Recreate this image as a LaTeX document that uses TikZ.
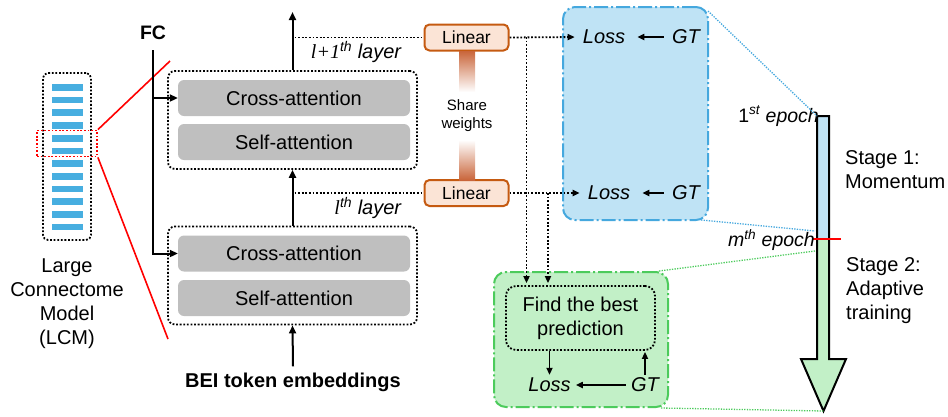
\documentclass[tikz,border=0pt]{standalone}
\usepackage{fontspec}
\setmainfont{Liberation Sans}
\newfontfamily\serifface{Liberation Serif}
\usetikzlibrary{arrows.meta,calc}

\definecolor{barblue}{HTML}{47AEE0}
\definecolor{attgray}{HTML}{BFBFBF}
\definecolor{linfill}{HTML}{FBE4D6}
\definecolor{linedge}{HTML}{C55A11}
\definecolor{shareor}{HTML}{C9653A}
\definecolor{stageblue}{HTML}{45A8DE}
\definecolor{stagebluefill}{HTML}{BFE3F5}
\definecolor{stagegreen}{HTML}{4CCB5C}
\definecolor{stagegreenfill}{HTML}{C2F0C7}

\begin{document}
\begin{tikzpicture}[x=1pt,y=-1pt,
  font=\fontsize{20}{24}\selectfont,
  tip/.style={-{Triangle[length=8pt,width=7pt]}},
  smalltip/.style={-{Triangle[length=7pt,width=6pt]}},
  dotline/.style={line width=1.8pt, dash pattern=on 1.8pt off 1.8pt},
  thindot/.style={line width=1.3pt, dash pattern=on 1.3pt off 1.3pt},
  blockbox/.style={draw, dotline, rounded corners=7pt, minimum width=249pt, minimum height=98pt, inner sep=0pt},
  attn/.style={fill=attgray, rounded corners=6pt, minimum width=232pt, minimum height=36pt, inner sep=0pt},
  linbox/.style={draw=linedge, fill=linfill, line width=2pt, rounded corners=5pt, minimum width=84pt, minimum height=26pt, inner sep=0pt, font=\fontsize{17.5}{20}\selectfont},
  termtxt/.style={font=\fontsize{20}{24}\selectfont\itshape, inner sep=3pt},
  layerbar/.style={fill=barblue, minimum width=31pt, minimum height=6.7pt, inner sep=0pt},
  stagebox/.style={line width=2pt, dash pattern=on 14pt off 3pt on 2pt off 3pt, rounded corners=12pt, inner sep=0pt},
  plain/.style={inner sep=0pt, align=left}
]
\useasboundingbox (0,0) rectangle (948,416);

% ---------- Large connectome model ----------
\node[draw, dotline, rounded corners=5pt, minimum width=48pt, minimum height=167pt, inner sep=0pt] (lcm) at (67,156.5) {};
\foreach \k in {0,...,11}
  \node[layerbar] (layer\k) at (67.5,{87.4+12.7*\k}) {};
\node[draw=red, dotline, minimum width=60pt, minimum height=26pt, inner sep=0pt] (sel) at (67,143.5) {};
\node[align=center, inner sep=0pt] (lcmname) at (67,304) {Large\\Connectome\\Model\\(LCM)};

% ---------- transformer blocks ----------
\node[blockbox] (ub) at (292.5,120) {};
\node[attn] (ca1) at (294,98) {Cross-attention};
\node[attn] (sa1) at (294,142) {Self-attention};
\node[blockbox] (lb) at (292.5,275.5) {};
\node[attn] (ca2) at (294,253.5) {Cross-attention};
\node[attn] (sa2) at (294,298) {Self-attention};

\coordinate (zoomtop) at (170,61);
\coordinate (zoombot) at (168,339);
\draw[red, line width=1.6pt] (sel.north east) -- (zoomtop);
\draw[red, line width=1.6pt] (sel.south east) -- (zoombot);

% FC feed
\node[font=\fontsize{19.5}{22}\selectfont\bfseries, inner sep=0pt] (fc) at (153,33) {FC};
\coordinate (fctop) at (153,50);
\draw[tip, line width=2pt] (fctop) |- (ca2.west);
\draw[tip, line width=2pt] (fctop |- ca1.west) -- (ca1.west);

% token stream
\node[font=\fontsize{20}{24}\selectfont\bfseries, inner sep=0pt] (bei) at (293,382) {BEI token embeddings};
\coordinate (out) at (292.5,12);
\draw[tip, line width=2pt] ([yshift=6pt]bei.north) -- (lb.south);
\draw[tip, line width=2pt] (lb.north) -- (ub.south);
\draw[tip, line width=2pt] (ub.north) -- (out);

% ---------- linear heads ----------
\node[linbox] (lin1) at (466.5,37.5) {Linear};
\node[linbox] (lin2) at (466.5,193) {Linear};
\shade[top color=shareor, bottom color=white] (459,51) rectangle (475,92);
\shade[top color=white, bottom color=shareor] (459,140) rectangle (475,180);
\node[align=center, font=\fontsize{15}{18}\selectfont, inner sep=0pt] (share) at (467,116) {Share\\weights};

\draw[dotline, shorten <=2pt] (ub.north |- lin1.west) -- (lin1.west);
\draw[dotline, shorten <=2pt] (lb.north |- lin2.west) -- (lin2.west);

\node[anchor=east, inner sep=0pt] (lab1) at (402,52)
  {{\serifface\itshape l+1}\textsuperscript{\itshape th} \textit{layer}};
\node[anchor=east, inner sep=0pt] (lab2) at (402,208)
  {{\serifface\itshape l}\textsuperscript{\itshape th} \textit{layer}};

% ---------- stage 1 box ----------
\node[stagebox, draw=stageblue, fill=stagebluefill, minimum width=145pt, minimum height=213pt] (momentum) at (635.5,113.5) {};
\node[termtxt] (loss1) at (604,37) {Loss};
\node[termtxt] (gt1) at (686,37) {GT};
\node[termtxt] (loss2) at (609,193) {Loss};
\node[termtxt] (gt2) at (686,193) {GT};
\draw[smalltip, line width=1.8pt, shorten >=9pt, shorten <=5pt] (gt1.west) -- (loss1.east);
\draw[smalltip, line width=1.8pt, shorten >=9pt, shorten <=5pt] (gt2.west) -- (loss2.east);
\draw[dotline, smalltip, shorten >=5pt] (lin1.east) -- (loss1.west);
\draw[dotline, smalltip, shorten >=5pt] (lin2.east) -- (loss2.west);

% ---------- stage 2 box ----------
\node[stagebox, draw=stagegreen, fill=stagegreenfill, minimum width=174pt, minimum height=135pt] (adaptive) at (581,339.5) {};
\node[draw, dotline, rounded corners=10pt, minimum width=149pt, minimum height=64pt, inner sep=0pt, align=center] (best) at (580.5,318) {Find the best\\prediction};
\node[termtxt] (loss3) at (549.5,385) {Loss};
\node[termtxt] (gt3) at (645,385) {GT};
\draw[smalltip, line width=1.8pt] (loss3 |- best.south) -- (loss3.north);
\draw[smalltip, line width=1.8pt, shorten >=1pt] (gt3.north) -- (gt3 |- best.south);
\draw[smalltip, line width=1.8pt, shorten >=2pt, shorten <=2pt] (gt3.west) -- (loss3.east);

\coordinate (br1) at (526.5,37);
\coordinate (br2) at (548,193);
\draw[dotline, smalltip, shorten >=2pt] (br1) -- (br1 |- best.north);
\draw[dotline, smalltip, shorten >=2pt] (br2) -- (br2 |- best.north);

% ---------- training timeline ----------
\coordinate (ep1) at (817,116);
\coordinate (epm) at (817,239);
\coordinate (tipend) at (823.5,411);
\fill[stagebluefill] (ep1) rectangle (829,239);
\fill[stagegreenfill] (epm) -- (829,239) -- (829,359) -- (846,359) -- (tipend) -- (801,359) -- (817,359) -- cycle;
\draw[line width=2pt] (ep1) -- (829,116) -- (829,359) -- (846,359) -- (tipend) -- (801,359) -- (817,359) -- cycle;
\draw[red, line width=2pt] (813,239) -- (841,239);

\node[anchor=east, inner sep=0pt, font=\fontsize{19.5}{22}\selectfont] (ep1lab) at (819,116)
  {1\textsuperscript{\itshape st} \textit{epoch}};
\node[anchor=east, inner sep=0pt, font=\fontsize{19.5}{22}\selectfont] (epmlab) at (815,240)
  {\textit{m}\textsuperscript{\itshape th} \textit{epoch}};
\node[plain, anchor=west] (stage1) at (845,170) {Stage 1:\\Momentum};
\node[plain, anchor=west] (stage2) at (846,291) {Stage 2:\\Adaptive\\training};

% guide lines from the stage boxes to the timeline
\draw[stageblue, thindot] ($(momentum.north east)+(-1,5)$) -- (ep1);
\draw[stageblue, thindot] ($(momentum.south east)+(-8,-1)$) -- (815,231);
\draw[stagegreen, thindot] ($(adaptive.north east)+(-10,0)$) -- (815,251);
\draw[stagegreen, thindot] ($(adaptive.south east)+(-8,0)$) -- (tipend);
\end{tikzpicture}
\end{document}
